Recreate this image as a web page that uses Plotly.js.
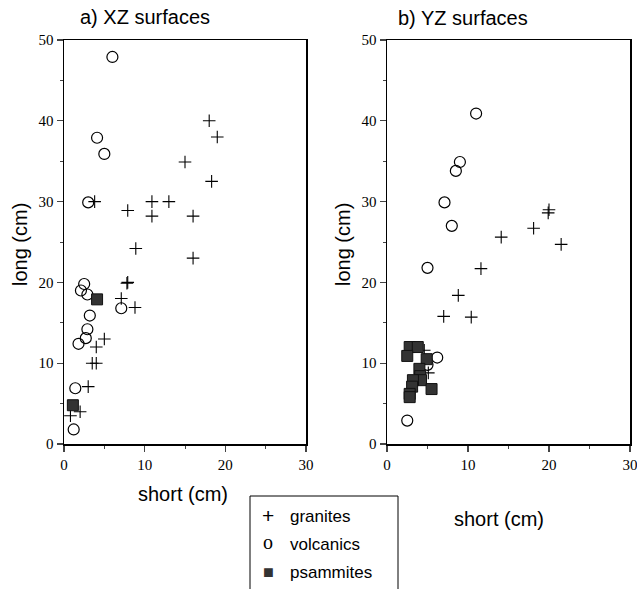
<!DOCTYPE html>
<html>
<head>
<meta charset="utf-8">
<script src="https://cdn.plot.ly/plotly-3.0.1.min.js"></script>
<style>html,body{margin:0;padding:0;background:#fff}#chart{width:637px;height:589px}</style>
</head>
<body>
<div id="chart"></div>
<script>
// Panel a) XZ surfaces
const xzGraniteShort = [18, 19, 15, 18.3, 10.9, 13, 3.8, 7.9, 10.9, 16, 8.9, 16, 7.8, 7.9, 7.1, 8.8, 5, 4, 3.5, 4, 3, 2, 0.8];
const xzGraniteLong  = [40, 38, 34.9, 32.5, 30, 30, 30, 28.9, 28.2, 28.2, 24.2, 23, 19.9, 20, 18, 16.9, 13, 12, 10, 10, 7.1, 4, 3.5];
const xzVolcanicShort = [6, 4.1, 5, 3, 2.5, 2.1, 2.9, 7.1, 3.2, 2.9, 2.7, 1.8, 1.4, 1.2];
const xzVolcanicLong  = [47.9, 37.9, 35.9, 29.9, 19.8, 19, 18.5, 16.8, 15.9, 14.2, 13.1, 12.4, 6.9, 1.8];
const xzPsammiteShort = [4.1, 1.1];
const xzPsammiteLong  = [17.9, 4.8];

// Panel b) YZ surfaces
const yzGraniteShort = [20, 19.9, 18.1, 14.1, 21.5, 11.6, 8.8, 7, 10.4, 4.6, 5.1];
const yzGraniteLong  = [29, 28.6, 26.7, 25.6, 24.7, 21.7, 18.4, 15.8, 15.7, 11.6, 8.8];
const yzVolcanicShort = [11, 9, 8.5, 7.1, 8, 5, 6.2, 5, 2.5];
const yzVolcanicLong  = [40.9, 34.9, 33.8, 29.9, 27, 21.8, 10.7, 9.8, 2.9];
const yzPsammiteShort = [2.8, 3.8, 2.5, 4.9, 4.0, 4.1, 4.2, 3.2, 3.1, 5.5, 2.8, 2.8];
const yzPsammiteLong  = [12.0, 12.0, 10.9, 10.5, 9.3, 8.4, 7.9, 7.9, 7.1, 6.8, 6.2, 5.8];

const seriesNames = ['granites', 'volcanics', 'psammites'];
const legendSymbols = ['+', 'o', '\u25A0'];
const panelTitles = ['a) XZ surfaces', 'b) YZ surfaces'];
const xTitle = 'short (cm)';
const yTitle = 'long (cm)';
const tickVals = [0, 10, 20, 30, 40, 50];

const granMarker = {symbol: 'cross-thin-open', size: 9, color: '#000', line: {color: '#000', width: 1.1}};
const volcMarker = {symbol: 'circle-open', size: 11, color: '#000', line: {color: '#000', width: 1.2}};
const psamMarker = {symbol: 'square', size: 11, color: '#333', line: {color: '#111', width: 1}};

const traces = [
  {x: xzGraniteShort, y: xzGraniteLong, name: seriesNames[0], mode: 'markers', type: 'scatter', marker: granMarker, xaxis: 'x', yaxis: 'y'},
  {x: xzVolcanicShort, y: xzVolcanicLong, name: seriesNames[1], mode: 'markers', type: 'scatter', marker: volcMarker, xaxis: 'x', yaxis: 'y'},
  {x: xzPsammiteShort, y: xzPsammiteLong, name: seriesNames[2], mode: 'markers', type: 'scatter', marker: psamMarker, xaxis: 'x', yaxis: 'y'},
  {x: yzGraniteShort, y: yzGraniteLong, name: seriesNames[0], mode: 'markers', type: 'scatter', marker: granMarker, xaxis: 'x2', yaxis: 'y2'},
  {x: yzVolcanicShort, y: yzVolcanicLong, name: seriesNames[1], mode: 'markers', type: 'scatter', marker: volcMarker, xaxis: 'x2', yaxis: 'y2'},
  {x: yzPsammiteShort, y: yzPsammiteLong, name: seriesNames[2], mode: 'markers', type: 'scatter', marker: psamMarker, xaxis: 'x2', yaxis: 'y2'}
];

const W = 637, H = 589;
const tickFont = {family: '"Liberation Serif", "Times New Roman", serif', size: 15, color: '#000'};
function xax(domain, anchor) {
  return {domain: domain, anchor: anchor, range: [0, 30], tickvals: [0, 10, 20, 30], ticks: 'outside', ticklen: 6, tickwidth: 1.2,
    showline: true, linewidth: 1.5, linecolor: '#000', mirror: true, showgrid: false, zeroline: false, ticklabeloverflow: 'allow',
    tickfont: tickFont, minor: {dtick: 5, ticks: 'outside', ticklen: 3, tickwidth: 1, showgrid: false}, automargin: false, fixedrange: true};
}
function yax(anchor) {
  return {domain: [1 - 444 / H, 1 - 40 / H], anchor: anchor, range: [0, 50], tickvals: tickVals, ticks: 'outside', ticklen: 6, tickwidth: 1.2,
    showline: true, linewidth: 1.5, linecolor: '#000', mirror: true, showgrid: false, zeroline: false, ticklabeloverflow: 'allow',
    tickfont: tickFont, minor: {dtick: 5, ticks: 'outside', ticklen: 3, tickwidth: 1, showgrid: false}, automargin: false, fixedrange: true};
}
const sans = '"Liberation Sans", Arial, sans-serif';
const titleFont = {family: sans, size: 20, color: '#000'};
const axFont = {family: sans, size: 20, color: '#000'};
function P(px, py) { return {x: px / W, y: 1 - py / H, xref: 'paper', yref: 'paper', showarrow: false}; }

const annotations = [
  Object.assign(P(145, 17), {text: panelTitles[0], font: titleFont, xanchor: 'center', yanchor: 'middle'}),
  Object.assign(P(463, 18), {text: panelTitles[1], font: titleFont, xanchor: 'center', yanchor: 'middle'}),
  Object.assign(P(183, 494), {text: xTitle, font: axFont, xanchor: 'center', yanchor: 'middle'}),
  Object.assign(P(499, 519), {text: xTitle, font: axFont, xanchor: 'center', yanchor: 'middle'}),
  Object.assign(P(20, 245), {text: yTitle, font: axFont, textangle: -90, xanchor: 'center', yanchor: 'middle'}),
  Object.assign(P(343, 245), {text: yTitle, font: axFont, textangle: -90, xanchor: 'center', yanchor: 'middle'})
];
// legend (text entries inside a framed box, as in the reference)
const rowY = [516, 544, 572];
const symFonts = [
  {family: sans, size: 21, color: '#000'},
  {family: '"Liberation Serif", serif', size: 20, color: '#000'},
  {family: sans, size: 18, color: '#333'}
];
seriesNames.forEach((nm, i) => {
  annotations.push(Object.assign(P(268, rowY[i] - (i === 0 ? 1 : (i === 1 ? 2 : 0))), {text: legendSymbols[i], font: symFonts[i], xanchor: 'center', yanchor: 'middle'}));
  annotations.push(Object.assign(P(288, rowY[i]), {text: nm, font: {family: sans, size: 17, color: '#000'}, xanchor: 'left', yanchor: 'middle'}));
});

const layout = {
  width: W, height: H,
  margin: {l: 0, r: 0, t: 0, b: 0},
  paper_bgcolor: '#fff', plot_bgcolor: '#fff',
  xaxis: xax([64 / W, 306 / W], 'y'),
  yaxis: yax('x'),
  xaxis2: xax([387 / W, 630 / W], 'y2'),
  yaxis2: yax('x2'),
  showlegend: false,
  shapes: [
    {type: 'rect', xref: 'paper', yref: 'paper', x0: 250 / W, x1: 398 / W, y0: -0.02, y1: 1 - 496 / H, line: {color: '#000', width: 1}, fillcolor: 'rgba(0,0,0,0)', layer: 'below'}
  ],
  annotations: annotations
};
Plotly.newPlot('chart', traces, layout, {displayModeBar: false, staticPlot: true});
</script>
</body>
</html>
